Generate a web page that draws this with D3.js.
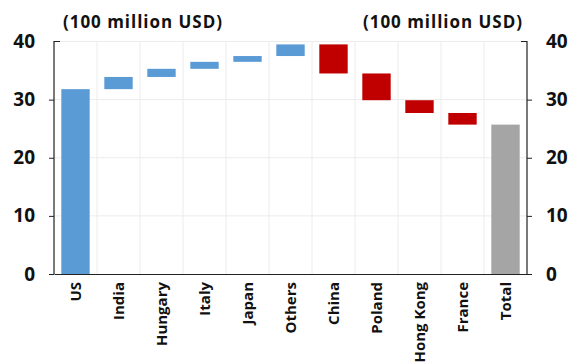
<!DOCTYPE html>
<html><head><meta charset="utf-8">
<script src="https://cdn.jsdelivr.net/npm/d3@7"></script>
<style>
body{margin:0;background:#fff;}
svg{display:block;}
svg text{font-family:"Open Sans","Noto Sans",sans-serif;}
</style></head>
<body><svg id="c" width="573" height="362"></svg>
<script>
const categories = ["US","India","Hungary","Italy","Japan","Others","China","Poland","Hong Kong","France","Total"];
const values = [31.8, 2.1, 1.4, 1.2, 1.0, 2.0, -5.0, -4.6, -2.2, -2.0, 25.7];
const kinds = ["total","delta","delta","delta","delta","delta","delta","delta","delta","delta","final"];
const yTicks = [0,10,20,30,40];
const unitLabel = "(100 million USD)";

const colors = {up:"#5b9bd5", down:"#c00000", final:"#a5a5a5", total:"#5b9bd5"};
const FONT = "'Open Sans','Noto Sans',sans-serif";

let run = 0;
const rows = categories.map((c,i)=>{
  let y0, y1, kind;
  if (kinds[i]==="total"){ y0=0; y1=values[i]; run=values[i]; kind="total"; }
  else if (kinds[i]==="final"){ y0=0; y1=values[i]; kind="final"; }
  else { y0=run; y1=run+values[i]; run=y1; kind = values[i]>=0?"up":"down"; }
  return {c, y0, y1, kind};
});

const svg = d3.select("#c");
const m = {l:54, r:46, t:41.5, b:88};
const W = 573, H = 362;
const x = d3.scaleBand().domain(categories).range([m.l, W-m.r]).paddingInner(0.34).paddingOuter(0.17);
const y = d3.scaleLinear().domain([0,40]).range([H-m.b, m.t]);

const g = svg.append("g");
g.selectAll("line.h").data(yTicks.filter(d=>d>0)).join("line")
  .attr("x1", m.l).attr("x2", W-m.r).attr("y1", d=>y(d)).attr("y2", d=>y(d))
  .attr("stroke","#ececec").attr("stroke-width",1);
const gap = x.step()-x.bandwidth();
g.selectAll("line.v").data(categories.slice(1)).join("line")
  .attr("x1", d=>x(d)-gap/2).attr("x2", d=>x(d)-gap/2)
  .attr("y1", y(40)).attr("y2", y(0))
  .attr("stroke","#ececec").attr("stroke-width",1);

svg.append("g").selectAll("rect").data(rows).join("rect")
  .attr("x", d=>x(d.c)).attr("width", x.bandwidth())
  .attr("y", d=>y(Math.max(d.y0,d.y1))).attr("height", d=>Math.abs(y(d.y0)-y(d.y1)))
  .attr("fill", d=>colors[d.kind]);

const left = d3.axisLeft(y).tickValues(yTicks).tickSize(5).tickPadding(14);
const right = d3.axisRight(y).tickValues(yTicks).tickSize(5).tickPadding(14);
const la = svg.append("g").attr("transform",`translate(${m.l},0)`).call(left).attr("font-family",FONT);
const ra = svg.append("g").attr("transform",`translate(${W-m.r},0)`).call(right).attr("font-family",FONT);
[[la,1],[ra,-1]].forEach(([a,s])=>{
  a.select(".domain").attr("stroke","#222").attr("stroke-width",1.2).attr("fill","none")
    .attr("d", `M${6*s},${y(40)}H0V${y(0)}`);
  a.selectAll(".tick line").attr("stroke","#222").attr("stroke-opacity", d=>d===40?0:1);
  a.selectAll(".tick text").attr("font-size",19).attr("font-weight","bold").attr("fill","#111")
    .attr("font-family",FONT);
});

const bottom = d3.axisBottom(x).tickSize(0).tickPadding(0);
const ba = svg.append("g").attr("transform",`translate(0,${y(0)})`).call(bottom).attr("font-family",FONT);
ba.select(".domain").attr("stroke","#222").attr("stroke-width",1.2);
ba.selectAll(".tick text")
  .attr("transform","rotate(-90)")
  .attr("text-anchor","end").attr("dy","0.35em").attr("x",-8).attr("y",0)
  .attr("font-size",15).attr("font-weight","bold").attr("fill","#111")
  .attr("font-family",FONT);

svg.append("text").attr("x",63).attr("y",28).text(unitLabel)
  .attr("font-size",17).attr("font-weight","bold").attr("fill","#111")
  .attr("textLength",159).attr("lengthAdjust","spacing");
svg.append("text").attr("x",363).attr("y",28).text(unitLabel)
  .attr("font-size",17).attr("font-weight","bold").attr("fill","#111")
  .attr("textLength",159).attr("lengthAdjust","spacing");
</script></body></html>
